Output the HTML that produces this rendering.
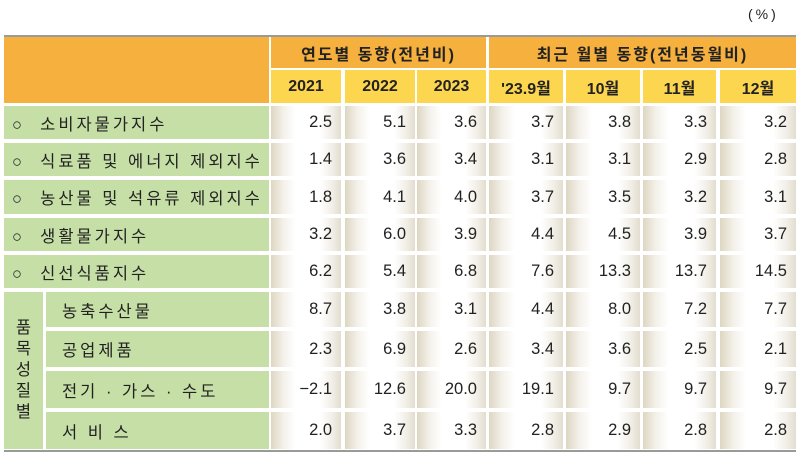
<!DOCTYPE html>
<html><head><meta charset="utf-8"><style>
body{margin:0;width:800px;height:453px;background:#fff;position:relative;overflow:hidden;font-family:"Liberation Sans","Noto Sans CJK KR","NanumGothic",sans-serif;}
.c{position:absolute;box-sizing:border-box;display:flex;align-items:center;color:#222;font-size:16px;white-space:pre;}
.or{background:#F6B03E;justify-content:center;font-weight:bold;letter-spacing:2px;}
.ye{background:#FDD64F;justify-content:center;font-weight:bold;}
.gr{background:#C6DFA6;letter-spacing:3px;font-size:16.5px;}
.dv{background:linear-gradient(to right,#ddd6c2 0%,#f4f1ea 18%,#fff 35%,#fff 70%,#f1eee6 88%,#e2ddd0 100%);justify-content:flex-end;padding-right:9px;font-size:16.5px;}
</style></head><body>
<div class="c" style="left:748px;top:6px;font-size:14px;letter-spacing:3px;">(%)</div>
<div style="position:absolute;left:4px;top:35px;width:792px;height:2px;background:#9a9a9a"></div>
<div style="position:absolute;left:4px;top:450px;width:792px;height:2px;background:#9a9a9a"></div>
<div class="c or" style="left:4px;top:37px;width:265px;height:66px"></div>
<div class="c or" style="left:271px;top:37px;width:215px;height:31px">연도별 동향(전년비)</div>
<div class="c or" style="left:489px;top:37px;width:307px;height:31px">최근 월별 동향(전년동월비)</div>
<div class="c gr" style="left:4px;top:292px;width:39px;height:157px;justify-content:center;text-align:center;line-height:21px;letter-spacing:0">품
목
성
질
별</div>
<script>
const columns=["2021","2022","2023","'23.9월","10월","11월","12월"];
const rowLabels=["○  소비자물가지수","○  식료품 및 에너지 제외지수","○  농산물 및 석유류 제외지수","○  생활물가지수","○  신선식품지수","농축수산물","공업제품","전기 · 가스 · 수도","서 비 스"];
const v2021=["2.5","1.4","1.8","3.2","6.2","8.7","2.3","−2.1","2.0"];
const v2022=["5.1","3.6","4.1","6.0","5.4","3.8","6.9","12.6","3.7"];
const v2023=["3.6","3.4","4.0","3.9","6.8","3.1","2.6","20.0","3.3"];
const vSep=["3.7","3.1","3.7","4.4","7.6","4.4","3.4","19.1","2.8"];
const vOct=["3.8","3.1","3.5","4.5","13.3","8.0","3.6","9.7","2.9"];
const vNov=["3.3","2.9","3.2","3.9","13.7","7.2","2.5","9.7","2.8"];
const vDec=["3.2","2.8","3.1","3.7","14.5","7.7","2.1","9.7","2.8"];
const series=[v2021,v2022,v2023,vSep,vOct,vNov,vDec];
const colX=[[271,70],[345,70],[417,69],[489,74],[566,74],[643,73],[720,76]];
const rowY=[[106,33],[143,33],[180,34],[218,33],[255,33],[292,35],[331,36],[371,37],[412,37]];
function mk(cls,x,y,w,h,t){const d=document.createElement('div');d.className='c '+cls;d.style.cssText=`left:${x}px;top:${y}px;width:${w}px;height:${h}px`;d.textContent=t;document.body.appendChild(d);return d;}
columns.forEach((c,i)=>{const d=mk('ye',colX[i][0],70,colX[i][1],33,c);

});
rowLabels.forEach((l,r)=>{const sub=r>=5;const d=mk('gr',sub?46:4,rowY[r][0],sub?223:265,rowY[r][1],l);
d.style.paddingLeft=sub?'16px':'8px';


series.forEach((s,i)=>{const e=mk('dv',colX[i][0],rowY[r][0],colX[i][1],rowY[r][1],s[r]);

});});
</script>
</body></html>
